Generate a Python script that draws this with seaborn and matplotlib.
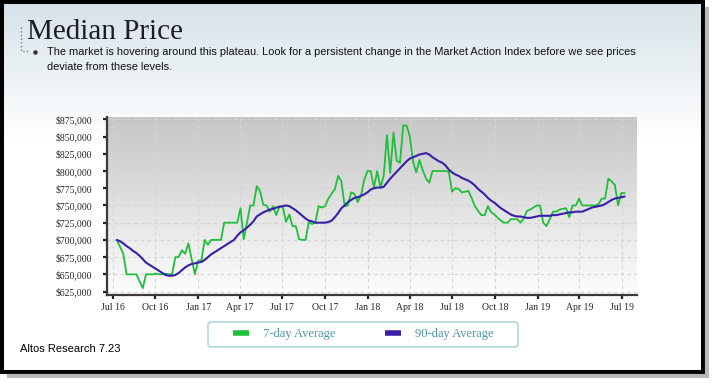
import numpy as np
import pandas as pd
import matplotlib
matplotlib.use('Agg')
import matplotlib.pyplot as plt
import matplotlib.dates as mdates
from matplotlib.colors import LinearSegmentedColormap
from matplotlib.patches import FancyBboxPatch, Rectangle
from matplotlib.ticker import FuncFormatter
import seaborn as sns

# weekly median price, in $1000s
start_date = '2016-07-10'
price_7day = [
    700, 690, 680, 650, 650, 650, 650, 640, 630, 650,
    650, 650, 651, 650, 650, 651, 650, 650, 675, 675,
    685, 680, 695, 672, 650, 670, 670, 700, 693, 700,
    700, 700, 700, 725, 725, 725, 725, 725, 746, 701,
    725, 750, 750, 778, 771, 751, 750, 741, 749, 736,
    749, 748, 726, 737, 720, 720, 701, 700, 700, 726,
    723, 725, 749, 747, 749, 760, 767, 774, 793, 785,
    749, 750, 769, 767, 755, 764, 787, 800, 800, 776,
    800, 776, 793, 852, 797, 856, 815, 812, 866, 866,
    851, 814, 798, 816, 801, 789, 783, 800, 800, 800,
    800, 800, 799, 770, 775, 774, 769, 770, 771, 761,
    749, 742, 736, 736, 749, 740, 737, 732, 728, 725,
    725, 730, 730, 730, 725, 731, 742, 744, 747, 750,
    750, 725, 720, 730, 741, 741, 744, 745, 746, 733,
    750, 750, 760, 750, 750, 750, 750, 750, 752, 760,
    760, 789, 785, 780, 750, 768, 768,
]
price_90day = [
    700, 698, 695, 691, 688, 684, 681, 677, 672, 667,
    664, 661, 658, 655, 652, 649, 648, 648, 649, 652,
    656, 660, 663, 665, 666, 667, 668, 671, 675, 679,
    682, 685, 688, 691, 694, 697, 700, 706, 711, 714,
    718, 722, 727, 734, 737, 740, 742, 744, 745, 747,
    748, 749, 750, 749, 746, 743, 739, 735, 731, 728,
    727, 725, 725, 725, 725, 726, 728, 733, 739, 746,
    750, 755, 758, 761, 762, 764, 766, 769, 773, 775,
    776, 776, 777, 783, 789, 794, 799, 804, 809, 814,
    818, 820, 822, 824, 825, 826, 824, 820, 817, 814,
    812, 808, 802, 798, 795, 793, 790, 788, 786, 783,
    779, 774, 770, 766, 761, 757, 754, 750, 746, 743,
    740, 737, 735, 734, 734, 733, 732, 732, 733, 734,
    735, 735, 735, 735, 736, 736, 737, 738, 739, 740,
    740, 741, 741, 741, 743, 745, 747, 748, 749, 750,
    752, 755, 758, 760, 761, 762, 763,
]
series_names = ['7-day Average', '90-day Average']
series_colors = ['#1fbf3b', '#3a1ea8']
y_ticks = [625, 650, 675, 700, 725, 750, 775, 800, 825, 850, 875]

title = 'Median Price'
note_lines = ['The market is hovering around this plateau. Look for a persistent change in the Market Action Index before we see prices',
              'deviate from these levels.']
footer = 'Altos Research 7.23'

weeks = pd.date_range(start_date, periods=len(price_7day), freq='7D')

sns.set_style('ticks')
serif = ['Liberation Serif', 'DejaVu Serif']
sans = ['Liberation Sans', 'DejaVu Sans']

fig = plt.figure(figsize=(7.14, 3.83), dpi=100)

# background layer, drawn in pixel coordinates
bg = fig.add_axes([0, 0, 1, 1], zorder=0)
grad = np.linspace(0, 1, 256).reshape(-1, 1)
top_cmap = LinearSegmentedColormap.from_list('top', ['#d6e3e8', '#ffffff'])
plot_cmap = LinearSegmentedColormap.from_list('plot', ['#c6c6c6', '#fdfdfd'])
bg.imshow(grad, extent=[3, 701, 140, 3], cmap=top_cmap, aspect='auto', origin='upper')
bg.imshow(grad, extent=[107, 636.7, 295, 117.3], cmap=plot_cmap, aspect='auto', origin='upper')

# frame with a drop shadow on the right and bottom
bg.plot([707, 707], [7, 376.5], color='#b8b8b8', lw=3.0, solid_capstyle='butt')
bg.plot([7, 708.5], [376, 376], color='#b8b8b8', lw=3.0, solid_capstyle='butt')
bg.add_patch(Rectangle((1.5, 1.5), 701.5, 370.5, fill=False, lw=2.9, ec='black'))

bg.plot([21, 21, 30], [27, 51, 51], ls=':', color='#7a7a7a', lw=1)
bg.plot([34.5], [52], 'o', ms=2.2, color='#333333')
bg.text(27, 39, title, fontsize=21, family=serif, color='#1c1c28', va='baseline')
bg.text(47, 52, note_lines[0], fontsize=7.9, family=sans, color='#111111', va='center')
bg.text(47, 67, note_lines[1], fontsize=7.9, family=sans, color='#111111', va='center')
bg.text(20, 349, footer, fontsize=8, family=sans, color='black', va='center')

# legend box
bg.add_patch(FancyBboxPatch((208, 322), 310, 25, boxstyle='round,pad=0,rounding_size=3',
                            fc='white', ec='#b3d5dc', lw=1.2))
bg.set_xlim(0, 714)
bg.set_ylim(383, 0)
bg.axis('off')

# chart
ax = fig.add_axes([107 / 714, 1 - 295 / 383, (636.7 - 107) / 714, (295 - 117.3) / 383], zorder=1)
ax.set_facecolor('none')
sns.lineplot(x=weeks, y=price_7day, color=series_colors[0], linewidth=1.3, label=series_names[0], ax=ax)
sns.lineplot(x=weeks, y=price_90day, color=series_colors[1], linewidth=1.5, label=series_names[1], ax=ax)

ax.set_xlim(pd.Timestamp('2016-06-19'), pd.Timestamp('2019-08-02'))
ax.set_ylim(620, 878)
ax.set_yticks(y_ticks)
ax.yaxis.set_major_formatter(FuncFormatter(lambda v, p: f'${v * 1000:,.0f}'))
ax.xaxis.set_major_locator(mdates.MonthLocator(bymonth=[1, 4, 7, 10]))
ax.xaxis.set_major_formatter(mdates.DateFormatter('%b %y'))
ax.grid(True, ls=(0, (3, 3)), color='#d4d4d4', lw=0.8)
ax.set_xlabel('')
ax.set_ylabel('')
for s in ['top', 'right']:
    ax.spines[s].set_visible(False)
for s in ['left', 'bottom']:
    ax.spines[s].set_color('#3a3a3a')
    ax.spines[s].set_linewidth(1.6)
ax.tick_params(axis='both', length=2.8, width=1.6, color='#222222', labelsize=7)
ax.tick_params(axis='y', pad=8)
ax.tick_params(axis='x', pad=3)
for lab in ax.get_xticklabels() + ax.get_yticklabels():
    lab.set_family(serif)

leg = ax.legend(loc='center', bbox_to_anchor=(363 / 714, 1 - 334.5 / 383), bbox_transform=fig.transFigure,
                ncol=2, frameon=False, prop={'family': serif, 'size': 9}, labelcolor='#4f95a5',
                handlelength=1.3, handletextpad=1.1, columnspacing=4.0)
for line in leg.get_lines():
    line.set_linewidth(4)
    line.set_solid_capstyle('butt')

plt.savefig('out.png', dpi=100)
